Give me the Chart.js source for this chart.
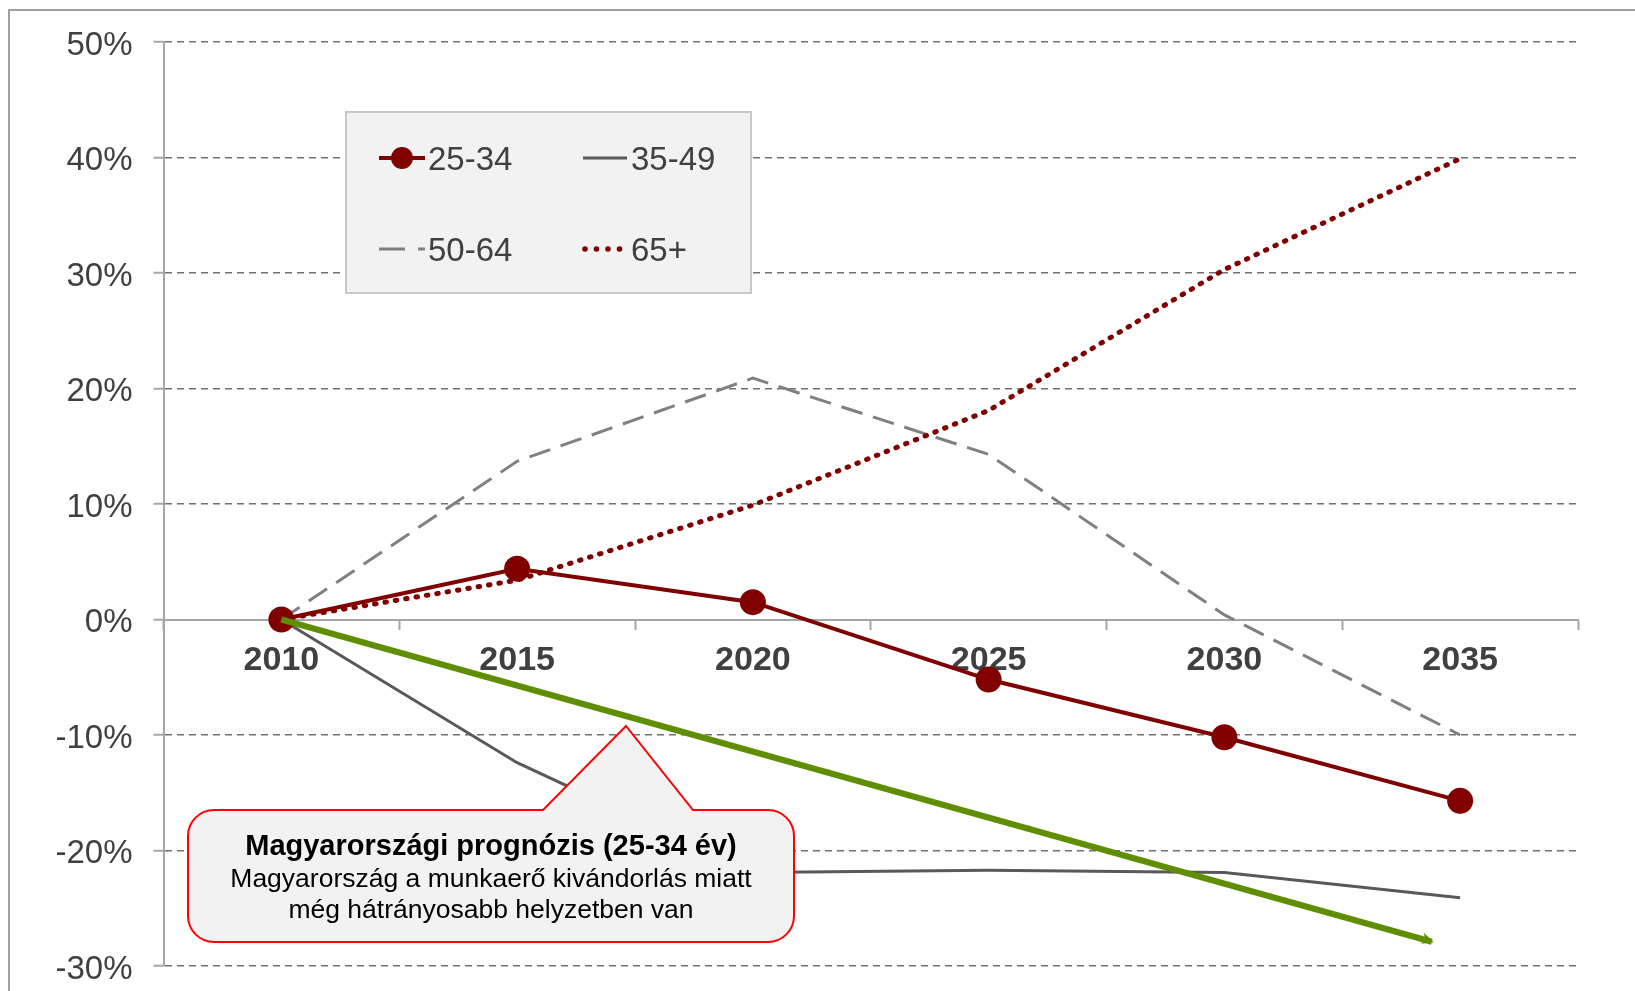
<!DOCTYPE html>
<html>
<head>
<meta charset="utf-8">
<script src="https://cdn.jsdelivr.net/npm/chart.js@4.4.1/dist/chart.umd.min.js"></script>
<style>
  html, body { margin: 0; padding: 0; background: #fff; }
  canvas { display: block; }
</style>
</head>
<body>
<canvas id="chart" width="1635" height="991"></canvas>
<script>
// --- data ---
const years = ["2010", "2015", "2020", "2025", "2030", "2035"];
const age25_34 = [0, 4.4, 1.5, -5.2, -10.2, -15.7];
const age35_49 = [0, -12.4, -21.9, -21.7, -21.9, -24.1];
const age50_64 = [0, 13.7, 20.9, 14.3, 0.4, -10.0];
const age65plus = [0, 3.4, 9.9, 18.1, 30.3, 39.9];
// green arrow: Hungarian forecast for 25-34 (start / end)
const huYears = [2010, 2034.4];
const huValues = [0, -27.9];
const yMin = -30, yMax = 50, yStep = 10;

const calloutTitle = "Magyarországi prognózis (25-34 év)";
const calloutLines = ["Magyarország a munkaerő kivándorlás miatt", "még hátrányosabb helyzetben van"];

const FONT = '"Liberation Sans", Arial, sans-serif';
const DARK_RED = "#800000";
const GREEN = "#5f8f00";
const AXIS_GREY = "#a6a6a6";
const TEXT_GREY = "#404040";

// frame, arrowhead, legend box and callout
const decorPlugin = {
  id: "decor",
  beforeDraw(chart) {
    const ctx = chart.ctx;
    ctx.save();
    ctx.strokeStyle = "#a0a0a0";
    ctx.lineWidth = 2;
    ctx.beginPath();
    ctx.moveTo(9, chart.height);
    ctx.lineTo(9, 10);
    ctx.lineTo(chart.width, 10);
    ctx.stroke();
    ctx.restore();
  },
  afterDatasetsDraw(chart) {
    const ctx = chart.ctx;
    ctx.save();

    // arrowhead on the green line
    const meta = chart.getDatasetMeta(4);
    const p0 = meta.data[0], p1 = meta.data[meta.data.length - 1];
    const ang = Math.atan2(p1.y - p0.y, p1.x - p0.x);
    ctx.translate(p1.x, p1.y);
    ctx.rotate(ang);
    ctx.fillStyle = GREEN;
    ctx.beginPath();
    ctx.moveTo(2, 0);
    ctx.lineTo(-10, -6.5);
    ctx.lineTo(-7, 0);
    ctx.lineTo(-10, 5);
    ctx.closePath();
    ctx.fill();
    ctx.setTransform(1, 0, 0, 1, 0, 0);

    // legend box
    const lx = 346, ly = 112, lw = 405, lh = 181;
    ctx.fillStyle = "#f2f2f2";
    ctx.fillRect(lx, ly, lw, lh);
    ctx.strokeStyle = "#c8c8c8";
    ctx.lineWidth = 2;
    ctx.strokeRect(lx, ly, lw, lh);

    const row1 = 158, row2 = 249;
    ctx.lineCap = "butt";
    // 25-34
    ctx.strokeStyle = DARK_RED; ctx.lineWidth = 4;
    ctx.beginPath(); ctx.moveTo(379, row1); ctx.lineTo(425, row1); ctx.stroke();
    ctx.fillStyle = DARK_RED;
    ctx.beginPath(); ctx.arc(402, row1, 11, 0, Math.PI * 2); ctx.fill();
    // 35-49
    ctx.strokeStyle = "#595959"; ctx.lineWidth = 3;
    ctx.beginPath(); ctx.moveTo(583, row1); ctx.lineTo(627, row1); ctx.stroke();
    // 50-64
    ctx.strokeStyle = "#808080"; ctx.lineWidth = 3;
    ctx.beginPath(); ctx.moveTo(379, row2); ctx.lineTo(405, row2);
    ctx.moveTo(418, row2); ctx.lineTo(425, row2); ctx.stroke();
    // 65+
    ctx.fillStyle = DARK_RED;
    for (let i = 0; i < 4; i++) {
      ctx.beginPath(); ctx.arc(585 + i * 11.5, row2, 2.8, 0, Math.PI * 2); ctx.fill();
    }
    ctx.fillStyle = TEXT_GREY;
    ctx.font = "33px " + FONT;
    ctx.textBaseline = "middle";
    ctx.textAlign = "left";
    ctx.fillText("25-34", 428, row1 + 3);
    ctx.fillText("35-49", 631, row1 + 3);
    ctx.fillText("50-64", 428, row2 + 3);
    ctx.fillText("65+", 631, row2 + 3);

    // callout with pointer
    const cx = 188, cy = 810, cw = 606, ch = 132, r = 26;
    const tipX = 626, tipY = 726, baseL = 543, baseR = 693;
    ctx.beginPath();
    ctx.moveTo(cx + r, cy);
    ctx.lineTo(baseL, cy);
    ctx.lineTo(tipX, tipY);
    ctx.lineTo(baseR, cy);
    ctx.arcTo(cx + cw, cy, cx + cw, cy + ch, r);
    ctx.arcTo(cx + cw, cy + ch, cx, cy + ch, r);
    ctx.arcTo(cx, cy + ch, cx, cy, r);
    ctx.arcTo(cx, cy, cx + cw, cy, r);
    ctx.closePath();
    ctx.fillStyle = "#f2f2f2";
    ctx.fill();
    ctx.strokeStyle = "#ff0000";
    ctx.lineWidth = 2;
    ctx.stroke();

    ctx.fillStyle = "#000";
    ctx.textAlign = "center";
    ctx.font = "bold 29px " + FONT;
    ctx.fillText(calloutTitle, cx + cw / 2, 847);
    ctx.font = "26.5px " + FONT;
    calloutLines.forEach((t, i) => ctx.fillText(t, cx + cw / 2, 880 + i * 31));

    ctx.restore();
  }
};

new Chart(document.getElementById("chart"), {
  type: "line",
  data: {
    labels: years,
    datasets: [
      {
        label: "25-34", data: age25_34, borderColor: DARK_RED, borderWidth: 4,
        pointRadius: 13, pointBackgroundColor: DARK_RED, pointBorderWidth: 0, order: 1
      },
      {
        label: "35-49", data: age35_49, borderColor: "#595959", borderWidth: 3,
        pointRadius: 0, order: 3
      },
      {
        label: "50-64", data: age50_64, borderColor: "#808080", borderWidth: 3,
        borderDash: [22, 11], pointRadius: 0, order: 4
      },
      {
        label: "65+", data: age65plus, borderColor: DARK_RED, borderWidth: 5,
        borderDash: [1.5, 9], borderCapStyle: "round", pointRadius: 0, order: 2
      },
      {
        label: "HU", data: huYears.map((x, i) => ({ x: x, y: huValues[i] })),
        xAxisID: "x2", borderColor: GREEN, borderWidth: 6, pointRadius: 0, order: 0
      }
    ]
  },
  options: {
    responsive: false,
    devicePixelRatio: 1,
    animation: false,
    layout: { padding: { left: 0, top: 42, right: 57, bottom: 25 } },
    plugins: { legend: { display: false }, tooltip: { enabled: false } },
    elements: { line: { tension: 0 } },
    scales: {
      x: {
        type: "category",
        position: { y: 0 },
        offset: true,
        afterFit: (s) => { s.height = 0; },
        grid: {
          drawOnChartArea: false, drawTicks: true, offset: true,
          tickLength: 9, tickColor: AXIS_GREY, tickWidth: 2
        },
        border: { color: AXIS_GREY, width: 2 },
        ticks: {
          autoSkip: false, maxRotation: 0, padding: 12,
          color: TEXT_GREY, font: { family: FONT, size: 34, weight: "bold" }
        }
      },
      x2: { type: "linear", display: false, min: 2007.5, max: 2037.5 },
      y: {
        min: yMin, max: yMax,
        afterFit: (s) => { s.width = 163.5; s.paddingTop = 0; s.paddingBottom = 0; },
        grid: {
          color: "#707070", lineWidth: 1.5,
          tickLength: 10, tickColor: AXIS_GREY, tickWidth: 2, tickBorderDash: []
        },
        border: { color: AXIS_GREY, width: 2, dash: [7, 5] },
        ticks: {
          stepSize: yStep, padding: 21, labelOffset: 3.5, color: TEXT_GREY,
          font: { family: FONT, size: 33 },
          callback: (v) => v + "%"
        }
      }
    }
  },
  plugins: [decorPlugin]
});
</script>
</body>
</html>
